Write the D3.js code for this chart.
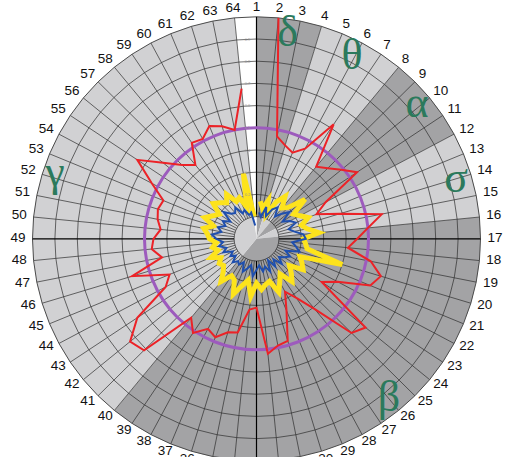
<!DOCTYPE html>
<html>
<head>
<meta charset="utf-8">
<script src="https://cdn.jsdelivr.net/npm/d3@7"></script>
<style>
  html, body { margin: 0; padding: 0; background: #ffffff; }
  svg { display: block; }
</style>
</head>
<body>
<svg id="chart" width="505" height="457"></svg>
<script>
// ---- data -------------------------------------------------------------
// 64 sector labels around the rim
const sectorLabels = d3.range(1, 65).map(String);

// frequency bands: name, first label, label where the band ends
const bandNames  = ["δ", "θ", "α", "σ", "β", "γ", "none"];
const bandStart  = [1, 4, 8, 12, 16, 40, 64];
const bandEnd    = [4, 8, 12, 16, 40, 64, 65];

// radial ring ticks (0..1 scale)
const ringTicks = [0.1, 0.2, 0.3, 0.4, 0.5, 0.6, 0.7, 0.8, 0.9, 1.0];
const referenceLevel = 0.5;

// series values per label 1..64 (null = no value)
const redValues = [
  null, 1.00, 0.47, 0.44, 0.42, 0.46, 0.62, 0.42,
  0.45, 0.49, 0.54, 0.35, 0.29, 0.39, 0.57, 0.50,
  0.45, 0.41, 0.52, 0.58, 0.55, 0.41, 0.35, 0.63,
  0.60, 0.41, 0.32, 0.27, 0.35, 0.48, 0.49, 0.52,
  0.31, 0.32, 0.43, 0.44, 0.48, 0.46, 0.51, 0.46,
  0.71, 0.73, 0.64, 0.46, 0.42, 0.58, 0.43, 0.47,
  0.46, 0.43, 0.45, 0.46, 0.45, 0.53, 0.64, 0.54,
  0.47, 0.43, 0.52, 0.51, 0.55, 0.53, 0.50, 0.68
];

const yellowValues = [
  null, 0.17, 0.14, 0.18, 0.12, 0.19, 0.23, 0.18,
  0.20, 0.28, 0.20, 0.22, 0.25, 0.21, 0.23, 0.28,
  0.21, 0.22, 0.23, 0.40, 0.21, 0.23, 0.25, 0.19,
  0.22, 0.25, 0.19, 0.22, 0.26, 0.20, 0.21, 0.23,
  0.20, 0.26, 0.19, 0.22, 0.27, 0.21, 0.20, 0.25,
  0.21, 0.19, 0.20, 0.18, 0.22, 0.18, 0.20, 0.18,
  0.21, 0.22, 0.24, 0.20, 0.25, 0.22, 0.20, 0.25,
  0.23, 0.21, 0.24, 0.19, 0.20, 0.15, 0.30, 0.10
];

const blueValues = [
  null, 0.12, 0.10, 0.15, 0.11, 0.15, 0.17, 0.13,
  0.16, 0.19, 0.14, 0.17, 0.19, 0.15, 0.17, 0.21,
  0.22, 0.16, 0.18, 0.20, 0.14, 0.17, 0.15, 0.13,
  0.16, 0.12, 0.15, 0.11, 0.16, 0.13, 0.15, 0.12,
  0.14, 0.17, 0.12, 0.14, 0.16, 0.12, 0.14, 0.13,
  0.15, 0.12, 0.14, 0.12, 0.16, 0.14, 0.17, 0.15,
  0.18, 0.20, 0.16, 0.18, 0.15, 0.17, 0.14, 0.19,
  0.16, 0.15, 0.17, 0.13, 0.14, 0.11, 0.12, 0.06
];

// ---- layout -----------------------------------------------------------
const svg = d3.select("#chart");
const cx = 256.5, cy = 238.8, R = 224;
const squash = 222 / 224;          // the polar grid is drawn very slightly flattened
const n = sectorLabels.length;

const angle = d3.scaleLinear().domain([0, n]).range([0, 2 * Math.PI]);
const radius = d3.scaleLinear().domain([0, 1]).range([0, R]);

const shade = d3.scaleOrdinal()
  .domain(bandNames)
  .range(["#a3a3a5", "#d1d1d3", "#a3a3a5", "#d1d1d3", "#a3a3a5", "#d1d1d3", "#ffffff"]);

const plot = svg.append("g").attr("transform", `translate(${cx},${cy}) scale(1,${squash})`);

// band wedges
const bands = bandNames.map((name, i) => ({ name, start: bandStart[i], end: bandEnd[i] }));
const arc = d3.arc().innerRadius(0).outerRadius(radius(1));
plot.append("g").selectAll("path").data(bands).join("path")
  .attr("d", d => arc({ startAngle: angle(d.start - 1), endAngle: angle(d.end - 1) }))
  .attr("fill", d => shade(d.name));

// rings
plot.append("g").selectAll("circle").data(ringTicks).join("circle")
  .attr("r", d => radius(d))
  .attr("fill", "none")
  .attr("stroke", d => d === 1 ? "#4a4a4a" : "#2c2c2c")
  .attr("stroke-width", d => d === 1 ? 1 : 0.7);

// spokes, one per label, starting at the first ring
const spokes = d3.range(n);
plot.append("g").selectAll("line").data(spokes).join("line")
  .attr("x1", i => radius(ringTicks[0]) * Math.sin(angle(i)))
  .attr("y1", i => -radius(ringTicks[0]) * Math.cos(angle(i)))
  .attr("x2", i => radius(1) * Math.sin(angle(i)))
  .attr("y2", i => -radius(1) * Math.cos(angle(i)))
  .attr("stroke", i => i % 16 === 0 ? "#000" : "#2c2c2c")
  .attr("stroke-width", i => i % 16 === 0 ? 1.2 : 0.7);

// reference circle
plot.append("circle")
  .attr("r", radius(referenceLevel))
  .attr("fill", "none")
  .attr("stroke", "#9d5bbd")
  .attr("stroke-width", 3);

// series lines
const radialLine = d3.lineRadial()
  .defined(d => d.v != null)
  .angle(d => angle(d.i))
  .radius(d => radius(d.v));

const toPoints = arr => arr.map((v, i) => ({ i, v }));

plot.append("path").datum(toPoints(redValues))
  .attr("d", radialLine)
  .attr("fill", "none").attr("stroke", "#ec2227")
  .attr("stroke-width", 2).attr("stroke-linejoin", "miter");

plot.append("path").datum(toPoints(yellowValues))
  .attr("d", radialLine)
  .attr("fill", "none").attr("stroke", "#fde31c")
  .attr("stroke-width", 5).attr("stroke-linejoin", "miter");

plot.append("path").datum(toPoints(blueValues))
  .attr("d", radialLine)
  .attr("fill", "none").attr("stroke", "#1f4fae")
  .attr("stroke-width", 2).attr("stroke-linejoin", "miter");

// text layer, centred on the plot but unscaled
const textLayer = svg.append("g").attr("transform", `translate(${cx},${cy})`);

// tiny ring values along the vertical axis
textLayer.append("g").selectAll("text").data(ringTicks.slice(0, 9)).join("text")
  .attr("x", -9)
  .attr("y", d => -radius(d) * squash + 1.5)
  .attr("text-anchor", "middle")
  .attr("font-family", "Liberation Sans, Arial, sans-serif")
  .attr("font-size", 4)
  .attr("fill", "#9a9a9a")
  .text(d => d.toFixed(1));

// sector labels around the rim
const labelRx = 231, labelRy = 226, labelDy = -1.8;
const lbl = textLayer.append("g").selectAll("text").data(sectorLabels).join("text")
  .attr("text-anchor", "middle")
  .attr("dominant-baseline", "central")
  .attr("font-family", "Liberation Sans, Arial, sans-serif")
  .attr("font-size", 13.5)
  .attr("fill", "#111")
  .text(d => d);
lbl.each(function(d, i) {
  const a = angle(i);
  const w = this.getComputedTextLength();
  const h = 10;
  const x = labelRx * Math.sin(a) + Math.sin(a) * w / 2;
  const y = labelDy - labelRy * Math.cos(a) - Math.cos(a) * h / 2;
  d3.select(this).attr("x", x).attr("y", y);
});

// band symbols
const symbolPos = {
  "δ": [287.5, 46], "θ": [352, 69], "α": [417, 117],
  "σ": [456, 192], "β": [389, 411], "γ": [55, 186]
};
svg.append("g").selectAll("text")
  .data(bandNames.filter(b => symbolPos[b]))
  .join("text")
  .attr("x", b => symbolPos[b][0])
  .attr("y", b => symbolPos[b][1])
  .attr("text-anchor", "middle")
  .attr("font-family", "Liberation Serif, Times New Roman, serif")
  .attr("font-size", 44)
  .attr("fill", "#2b7a5c")
  .text(b => b);
</script>
</body>
</html>
